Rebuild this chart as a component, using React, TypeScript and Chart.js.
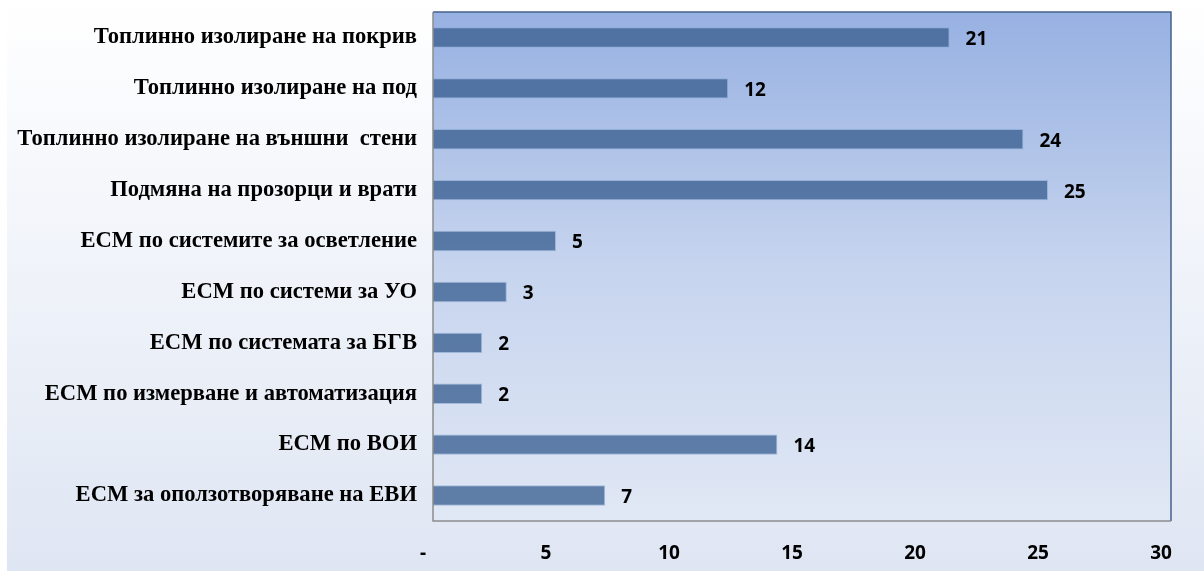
import React, { useEffect, useRef } from "react";
import { Chart, registerables } from "chart.js";

Chart.register(...registerables);

const categories = [
  "Топлинно изолиране на покрив",
  "Топлинно изолиране на под",
  "Топлинно изолиране на външни  стени",
  "Подмяна на прозорци и врати",
  "ЕСМ по системите за осветление",
  "ЕСМ по системи за УО",
  "ЕСМ по системата за БГВ",
  "ЕСМ по измерване и автоматизация",
  "ЕСМ по ВОИ",
  "ЕСМ за оползотворяване на ЕВИ",
];
const values = [21, 12, 24, 25, 5, 3, 2, 2, 14, 7];
const xTickValues = [0, 5, 10, 15, 20, 25, 30];
const xTickLabels = ["-", "5", "10", "15", "20", "25", "30"];

const numberFont = "'Noto Sans', sans-serif";

const backgroundPlugin = {
  id: "bgPlugin",
  beforeDraw(chart: any) {
    const { ctx, width, height, chartArea } = chart;
    ctx.save();
    const g = ctx.createLinearGradient(0, 0, 0, height);
    g.addColorStop(0, "#ffffff");
    g.addColorStop(1, "#dfe6f3");
    ctx.fillStyle = g;
    ctx.fillRect(0, 0, width, height);
    ctx.fillStyle = "#ffffff";
    ctx.fillRect(0, 0, 7, height);
    const { left, top, right, bottom } = chartArea;
    const pg = ctx.createLinearGradient(0, top, 0, bottom);
    pg.addColorStop(0, "#97b1e2");
    pg.addColorStop(0.5, "#c6d4ee");
    pg.addColorStop(1, "#e1e8f5");
    ctx.fillStyle = pg;
    ctx.fillRect(left, top, right - left, bottom - top);
    ctx.restore();
  },
  afterDraw(chart: any) {
    const { ctx, chartArea } = chart;
    const { left, top, right, bottom } = chartArea;
    ctx.save();
    ctx.lineWidth = 1.5;
    ctx.strokeStyle = "#44638a";
    ctx.beginPath();
    ctx.moveTo(left, top);
    ctx.lineTo(right, top);
    ctx.lineTo(right, bottom);
    ctx.stroke();
    ctx.strokeStyle = "#8c8c8c";
    ctx.beginPath();
    ctx.moveTo(right, bottom);
    ctx.lineTo(left, bottom);
    ctx.lineTo(left, top);
    ctx.stroke();
    ctx.restore();
  },
};

const dataLabelPlugin = {
  id: "dataLabels",
  afterDatasetsDraw(chart: any) {
    const { ctx } = chart;
    const meta = chart.getDatasetMeta(0);
    ctx.save();
    ctx.font = "bold 19px " + numberFont;
    ctx.fillStyle = "#000000";
    ctx.textAlign = "left";
    ctx.textBaseline = "middle";
    meta.data.forEach((bar: any, i: number) => {
      ctx.fillText(String(values[i]), bar.x + 16, bar.y + 2);
    });
    ctx.restore();
  },
};

export default function App() {
  const canvasRef = useRef<HTMLCanvasElement | null>(null);

  useEffect(() => {
    document.body.style.margin = "0";
    const canvas = canvasRef.current;
    if (!canvas) return;
    const chart = new Chart(canvas, {
      type: "bar",
      data: {
        labels: categories,
        datasets: [
          {
            data: values,
            backgroundColor: "rgba(58,95,145,0.78)",
            borderColor: "rgba(140,170,210,0.7)",
            borderWidth: 1,
            barPercentage: 0.4,
            categoryPercentage: 1,
          },
        ],
      },
      options: {
        indexAxis: "y",
        animation: false,
        responsive: false,
        devicePixelRatio: 1,
        layout: { padding: { left: 0, top: 12, right: 33, bottom: 0 } },
        plugins: {
          legend: { display: false },
          tooltip: { enabled: false },
        },
        scales: {
          x: {
            min: 0,
            max: 30,
            afterBuildTicks: (s: any) => {
              s.ticks = xTickValues.map((v) => ({ value: v }));
            },
            afterFit: (s: any) => {
              s.height = 50;
              s.paddingLeft = 0;
              s.paddingRight = 0;
            },
            grid: { display: false, drawTicks: false },
            border: { display: false },
            ticks: {
              callback: (v: any) => xTickLabels[xTickValues.indexOf(Number(v))],
              color: "#000000",
              font: { family: numberFont, size: 19, weight: "bold" },
              padding: 21,
              labelOffset: -10,
              maxRotation: 0,
              autoSkip: false,
            },
          },
          y: {
            afterFit: (s: any) => {
              s.width = 433;
              s.paddingTop = 0;
              s.paddingBottom = 0;
            },
            grid: { display: false, drawTicks: false },
            border: { display: false },
            ticks: {
              color: "#000000",
              font: { family: "'Liberation Serif'", size: 22.6, weight: "bold" },
              padding: 16,
              autoSkip: false,
            },
          },
        },
      },
      plugins: [backgroundPlugin, dataLabelPlugin],
    });
    return () => chart.destroy();
  }, []);

  return (
    <div style={{ width: 1204, height: 571 }}>
      <canvas ref={canvasRef} width={1204} height={571} style={{ display: "block" }} />
    </div>
  );
}
